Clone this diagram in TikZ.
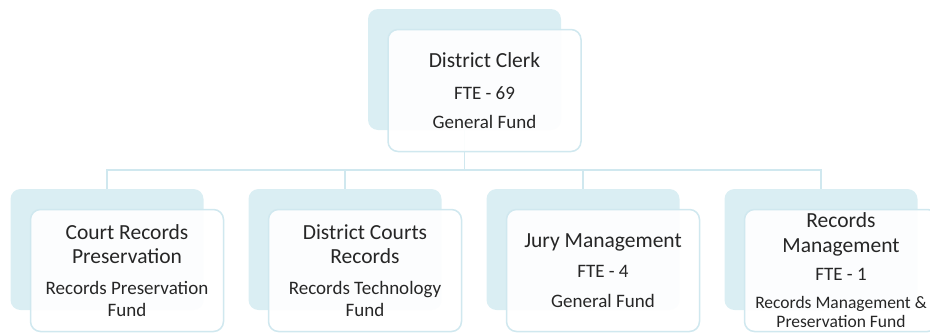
\documentclass[tikz,border=0pt]{standalone}
\usepackage{fontspec}
\setmainfont{Carlito}
\usetikzlibrary{positioning}
\definecolor{clerkfill}{HTML}{DAEEF3}
\definecolor{clerkline}{HTML}{D0E8EF}
\definecolor{clerktext}{HTML}{262626}
\newcommand{\unittitle}[1]{{\fontsize{21.5}{22}\selectfont #1}}
\newcommand{\unitfte}[1]{{\fontsize{19}{22}\selectfont #1}}

\begin{document}
\begin{tikzpicture}[x=1pt, y=-1pt,
        backbox/.style={rectangle, rounded corners=10pt, fill=clerkfill,
            minimum width=193pt, minimum height=121pt},
        frontbox/.style={rectangle, rounded corners=10pt, draw=clerkline, line width=1.5pt,
            fill=white, fill opacity=0.92, text opacity=1, text=clerktext,
            minimum width=193pt, minimum height=122pt, inner sep=1pt, align=center,
            shift={(20,21)}},
        link/.style={draw=clerkline, line width=1.5pt}]

        \useasboundingbox (0,0) rectangle (930,333);

        % Back panels
        \node[backbox] (clerk) at (464.5,69.5) {};
        \node[backbox] (crp) at (107,249.5) {};
        \node[backbox] (dcr) at (345,249.5) {};
        \node[backbox] (jury) at (583,249.5) {};
        \node[backbox] (recm) at (821,249.5) {};

        % Connectors
        \draw[link] (clerk.south) -- ++(0,40) coordinate (bus);
        \foreach \unit in {crp, dcr, jury, recm}
            \draw[link] (bus) -| (\unit.north);

        % Front cards
        \node[frontbox, font=\fontsize{19}{22}\selectfont] (clerkF) at (clerk)
            {\unittitle{District Clerk}\\[10pt] FTE - 69\\[7pt] General Fund};
        \node[frontbox, font=\fontsize{19}{22}\selectfont] (crpF) at (crp)
            {\unittitle{Court Records}\\[2pt] \unittitle{Preservation}\\[9pt] Records Preservation\\ Fund};
        \node[frontbox, font=\fontsize{19}{22}\selectfont] (dcrF) at (dcr)
            {\unittitle{District Courts}\\[2pt] \unittitle{Records}\\[9pt] Records Technology\\ Fund};
        \node[frontbox, font=\fontsize{19}{22}\selectfont] (juryF) at (jury)
            {\unittitle{Jury Management}\\[8pt] FTE - 4\\[8pt] General Fund};
        \node[frontbox, font=\fontsize{17.5}{19}\selectfont] (recmF) at (recm)
            {\unittitle{Records}\\[6pt] \unittitle{Management}\\[9pt] \unitfte{FTE - 1}\\[9pt] Records Management \&\\ Preservation Fund};
\end{tikzpicture}
\end{document}
